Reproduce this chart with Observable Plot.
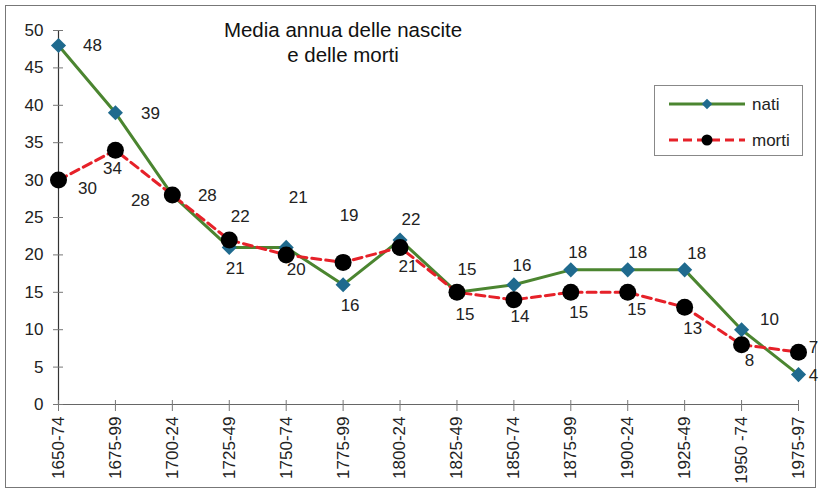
<!DOCTYPE html>
<html>
<head>
<meta charset="utf-8">
<script src="https://cdn.jsdelivr.net/npm/d3@7"></script>
<script src="https://cdn.jsdelivr.net/npm/@observablehq/plot@0.6"></script>
<style>
  body { margin: 0; background: #fff; font-family: "Liberation Sans", Arial, sans-serif; }
  #wrap { position: relative; width: 822px; height: 494px; overflow: hidden; }
  #frame { position: absolute; left: 5px; top: 5px; width: 811px; height: 483px; border: 1.5px solid #777; box-sizing: border-box; }
  #title { position: absolute; left: 193px; top: 17px; width: 300px; text-align: center; font-size: 20.5px; line-height: 25px; color: #111; }
  #chart { position: absolute; left: 0; top: 0; }
</style>
</head>
<body>
<div id="wrap">
  <div id="frame"></div>
  <div id="chart"></div>
  <div id="title">Media annua delle nascite<br>e delle morti</div>
</div>
<script>
// ---- data ----
const periods = ["1650-74","1675-99","1700-24","1725-49","1750-74","1775-99","1800-24","1825-49","1850-74","1875-99","1900-24","1925-49","1950 -74","1975-97"];
const nati  = [48,39,28,21,21,16,22,15,16,18,18,18,10,4];
const morti = [30,34,28,22,20,19,21,15,14,15,15,13,8,7];
const yTicks = [0,5,10,15,20,25,30,35,40,45,50];
const seriesNames = ["nati","morti"];

// ---- label placement (layout only) ----
const natiDx  = [34,35,35,6,12,7,11,10,8,7,10,12,28,15];
const natiDy  = [0,1,0,21,-50,21,-20,-23,-19,-17,-17,-16,-10,1];
const mortiDx = [29,-3,-32,11,10,6,8,8,6,8,9,8,8,15];
const mortiDy = [8,18,5,-23,15,-47,19,22,17,20,17,21,16,-5];

const rows = periods.map((p, i) => ({period: p, nati: nati[i], morti: morti[i], i}));

const green = "#4b8530", blue = "#1f6a8e", red = "#e62129";
const FS = 17;

const labelMarks = rows.map(r => [
  Plot.text([r], {x: "period", y: "nati", text: d => String(d.nati), dx: natiDx[r.i], dy: natiDy[r.i], fill: "#222", fontSize: FS}),
  Plot.text([r], {x: "period", y: "morti", text: d => String(d.morti), dx: mortiDx[r.i], dy: mortiDy[r.i], fill: "#222", fontSize: FS})
]).flat();

const chart = Plot.plot({
  width: 822,
  height: 494,
  marginLeft: 58,
  marginRight: 24,
  marginTop: 30,
  marginBottom: 90,
  style: {fontFamily: "Liberation Sans, Arial, sans-serif", fontSize: FS + "px", color: "#222", background: "transparent", overflow: "visible"},
  x: {type: "point", domain: periods, padding: 0, inset: 0, round: false},
  y: {domain: [0, 50], inset: 0},
  marks: [
    Plot.ruleY([0], {stroke: "#666", strokeWidth: 1.2}),
    Plot.ruleX([periods[0]], {stroke: "#333", strokeWidth: 1.2}),
    Plot.tickY(yTicks, {y: d => d, insetRight: 730, dx: -5, stroke: "#777"}),
    Plot.tickX(periods, {x: d => d, insetTop: 363, dy: 7, stroke: "#777"}),
    Plot.axisY({ticks: yTicks, tickSize: 0, tickPadding: 15, fontSize: FS, label: null, fill: "#222"}),
    Plot.axisX({tickSize: 0, tickRotate: -90, tickPadding: 12, fontSize: FS, label: null, fill: "#222"}),
    Plot.line(rows, {x: "period", y: "nati", stroke: green, strokeWidth: 3}),
    Plot.line(rows, {x: "period", y: "morti", stroke: red, strokeWidth: 3, strokeDasharray: "9,5"}),
    Plot.dot(rows, {x: "period", y: "nati", symbol: "diamond2", r: 6.8, fill: blue, stroke: "none"}),
    Plot.dot(rows, {x: "period", y: "morti", r: 8.5, fill: "#000", stroke: "none"}),
    ...labelMarks
  ]
});
document.getElementById("chart").appendChild(chart);

// ---- legend ----
const svg = d3.select(chart);
const lg = svg.append("g").attr("font-family", "Liberation Sans, Arial, sans-serif").attr("font-size", FS).attr("text-anchor", "start");
lg.append("rect").attr("x", 654.5).attr("y", 85.5).attr("width", 148).attr("height", 70).attr("fill", "#fff").attr("stroke", "#888");
lg.append("line").attr("x1", 669).attr("x2", 745).attr("y1", 104).attr("y2", 104).attr("stroke", green).attr("stroke-width", 3);
lg.append("path").attr("d", d3.symbol(d3.symbolDiamond2, 70)()).attr("transform", "translate(707,104)").attr("fill", blue);
lg.append("text").attr("x", 752).attr("y", 104).attr("dy", "0.35em").attr("fill", "#222").text(seriesNames[0]);
lg.append("line").attr("x1", 669).attr("x2", 745).attr("y1", 140).attr("y2", 140).attr("stroke", red).attr("stroke-width", 3).attr("stroke-dasharray", "9,5");
lg.append("circle").attr("cx", 707).attr("cy", 140).attr("r", 5.5).attr("fill", "#000");
lg.append("text").attr("x", 752).attr("y", 140).attr("dy", "0.35em").attr("fill", "#222").text(seriesNames[1]);
</script>
</body>
</html>
